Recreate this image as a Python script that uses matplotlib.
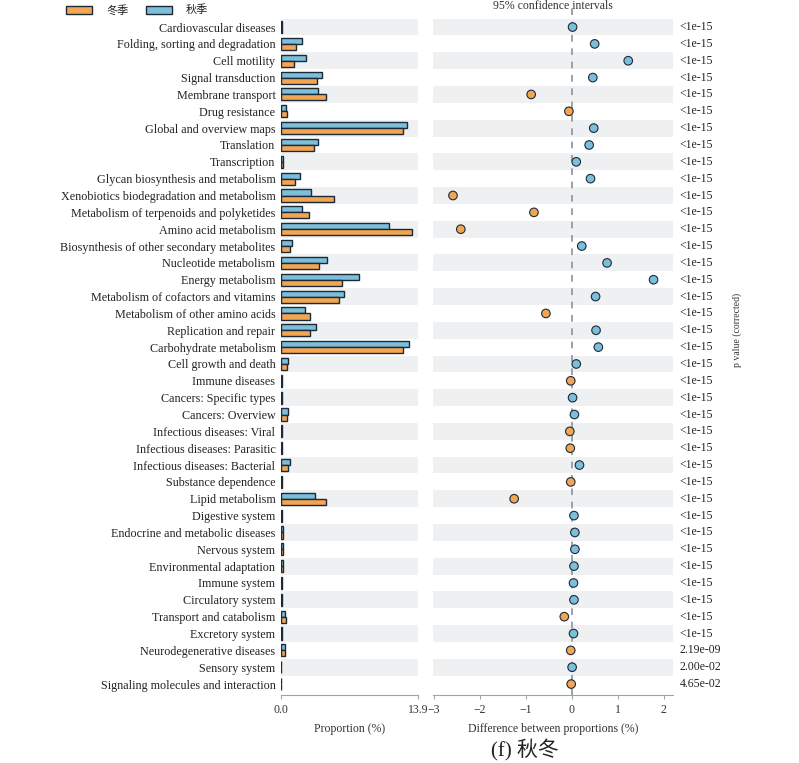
import matplotlib
matplotlib.use("Agg")
import matplotlib.pyplot as plt
from matplotlib.patches import Rectangle
import numpy as np

plt.rcParams["font.family"] = ["Liberation Serif", "Noto Sans CJK SC"]

# --- data ---
categories = [
    "Cardiovascular diseases", "Folding, sorting and degradation", "Cell motility",
    "Signal transduction", "Membrane transport", "Drug resistance",
    "Global and overview maps", "Translation", "Transcription",
    "Glycan biosynthesis and metabolism", "Xenobiotics biodegradation and metabolism",
    "Metabolism of terpenoids and polyketides", "Amino acid metabolism",
    "Biosynthesis of other secondary metabolites", "Nucleotide metabolism",
    "Energy metabolism", "Metabolism of cofactors and vitamins",
    "Metabolism of other amino acids", "Replication and repair",
    "Carbohydrate metabolism", "Cell growth and death", "Immune diseases",
    "Cancers: Specific types", "Cancers: Overview", "Infectious diseases: Viral",
    "Infectious diseases: Parasitic", "Infectious diseases: Bacterial",
    "Substance dependence", "Lipid metabolism", "Digestive system",
    "Endocrine and metabolic diseases", "Nervous system", "Environmental adaptation",
    "Immune system", "Circulatory system", "Transport and catabolism",
    "Excretory system", "Neurodegenerative diseases", "Sensory system",
    "Signaling molecules and interaction",
]
autumn = [0.05, 2.1, 2.5, 4.2, 3.8, 0.55, 12.8, 3.8, 0.2, 1.9,
          3.0, 2.1, 10.95, 1.1, 4.65, 7.9, 6.35, 2.4, 3.5, 12.95,
          0.75, 0.05, 0.15, 0.75, 0.05, 0.05, 0.9, 0.05, 3.4, 0.15,
          0.2, 0.2, 0.2, 0.1, 0.1, 0.4, 0.1, 0.45, 0.03, 0.03]
winter = [0.05, 1.55, 1.3, 3.7, 4.6, 0.65, 12.35, 3.35, 0.2, 1.4,
          5.4, 2.85, 13.25, 0.95, 3.85, 6.15, 5.85, 2.95, 2.95, 12.4,
          0.65, 0.05, 0.15, 0.65, 0.05, 0.05, 0.7, 0.05, 4.6, 0.15,
          0.2, 0.2, 0.2, 0.1, 0.1, 0.55, 0.1, 0.45, 0.03, 0.03]
diff = [0.02, 0.5, 1.23, 0.46, -0.88, -0.06, 0.48, 0.38, 0.1, 0.41,
        -2.58, -0.82, -2.41, 0.22, 0.77, 1.78, 0.52, -0.56, 0.53, 0.58,
        0.1, -0.02, 0.02, 0.06, -0.04, -0.03, 0.17, -0.02, -1.25, 0.05,
        0.07, 0.07, 0.05, 0.04, 0.05, -0.16, 0.04, -0.02, 0.01, -0.01]
pvals = ["<1e-15"] * 37 + ["2.19e-09", "2.00e-02", "4.65e-02"]
group_names = ["冬季", "秋季"]

C_WIN = "#F2A553"
C_AUT = "#7DBFDB"
EDGE = "#1c2a38"
BAND = "#EEF0F2"
AXC = "#9aa5ad"

n = len(categories)
y = np.arange(n)

fig = plt.figure(figsize=(7.99, 7.63), dpi=100)
ax1 = fig.add_axes([0.3517, 0.0891, 0.1715, 0.8865])
ax2 = fig.add_axes([0.5416, 0.0891, 0.3011, 0.8865], sharey=ax1)

ylim = (39.65, -0.5)
for ax, (x0, x1) in ((ax1, (0, 13.9)), (ax2, (-3.02, 2.21))):
    for i in range(0, n, 2):
        ax.add_patch(Rectangle((x0, i - 0.5), x1 - x0, 1.0, facecolor=BAND,
                               edgecolor="none", zorder=0))
    ax.set_xlim(x0, x1)
    ax.set_ylim(*ylim)
    for s in ("left", "right", "top"):
        ax.spines[s].set_visible(False)
    ax.spines["bottom"].set_color(AXC)
    ax.tick_params(axis="x", colors=AXC, labelcolor="#333333", labelsize=8.5,
                   length=3)
    ax.tick_params(axis="y", length=0)

# --- left: proportions ---
bh = 0.36
ax1.barh(y - bh / 2, autumn, height=bh, color=C_AUT, edgecolor=EDGE, lw=1.0, zorder=3)
ax1.barh(y + bh / 2, winter, height=bh, color=C_WIN, edgecolor=EDGE, lw=1.0, zorder=3)
ax1.set_yticks(y)
ax1.set_yticklabels(categories, fontsize=8.7, color="#222222")
ax1.tick_params(axis="y", pad=4)
ax1.set_xticks([0, 13.9])
ax1.set_xticklabels(["0.0", "13.9"])
ax1.set_xlabel("Proportion (%)", fontsize=8.5, color="#333333", labelpad=5)

# --- right: differences ---
# dashed zero line, running a bit above the panel towards the title
ax2.plot([0, 0], [39.65, -1.2], color="#8a949c", ls=(0, (4, 4)), lw=1.2,
         zorder=1, clip_on=False)
cols = [C_AUT if d >= 0 else C_WIN for d in diff]
ax2.scatter(diff, y, s=38, c=cols, edgecolors=EDGE, linewidths=0.8, zorder=4)
ax2.tick_params(axis="y", labelleft=False)
ax2.set_xticks([-3, -2, -1, 0, 1, 2])
ax2.set_xticklabels(["\u22123", "\u22122", "\u22121", "0", "1", "2"])
ax2.set_xlabel("Difference between proportions (%)", fontsize=8.5,
               color="#333333", labelpad=5)
ax2.set_title("95% confidence intervals", fontsize=8.5, color="#333333", pad=7)
for i, p in enumerate(pvals):
    ax2.text(1.025, i, p, transform=ax2.get_yaxis_transform(), ha="left",
             va="center", fontsize=8.5, color="#222222")
fig.text(0.923, 0.567, "p value (corrected)", rotation=90, ha="center",
         va="center", fontsize=7, color="#333333")

# --- legend ---
for xp, col, lab in ((0.083, C_WIN, group_names[0]), (0.183, C_AUT, group_names[1])):
    fig.patches.append(Rectangle((xp, 0.982), 0.032, 0.01, transform=fig.transFigure,
                                 facecolor=col, edgecolor=EDGE, lw=1.0))
    fig.text(xp + 0.05, 0.987, lab, ha="left", va="center", fontsize=8,
             family=["Noto Sans CJK SC"], color="#222222")

fig.text(0.657, 0.017, "(f) 秋冬", ha="center", va="center", fontsize=15,
         color="#222222")

fig.savefig("out.png", dpi=100)
